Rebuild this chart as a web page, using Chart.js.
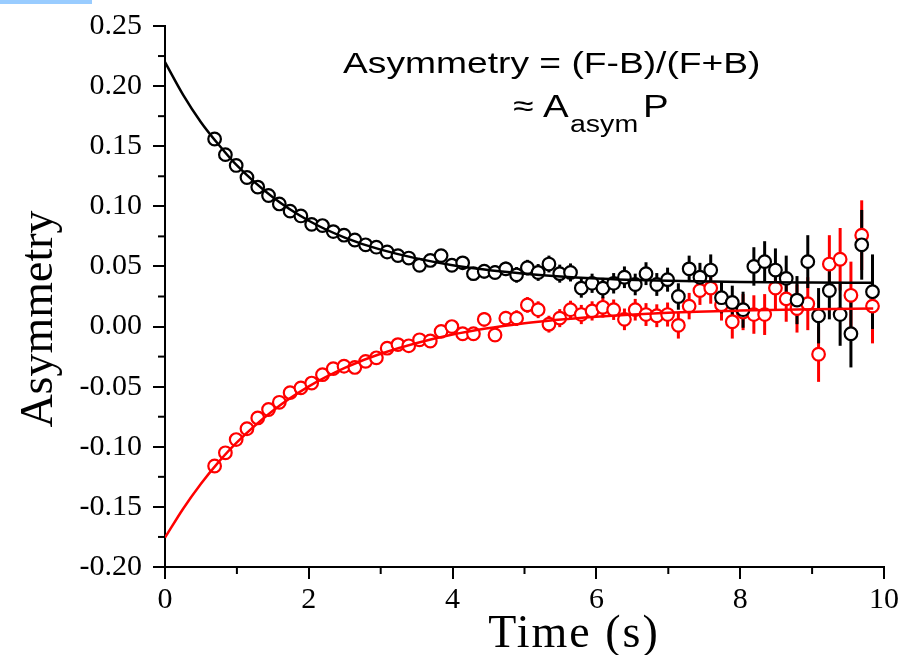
<!DOCTYPE html>
<html>
<head>
<meta charset="utf-8">
<script src="https://cdn.jsdelivr.net/npm/chart.js@4.4.0/dist/chart.umd.min.js"></script>
<style>
  body { margin: 0; background: #fff; }
  #wrap { position: relative; width: 905px; height: 655px; }
  #selBar { position: absolute; left: 0; top: 0; width: 92px; height: 4px; background: #99ccff; }
</style>
</head>
<body>
<div id="wrap">
  <canvas id="asymChart"></canvas>
  <div id="selBar"></div>
</div>
<script>
// measurement times (s)
const times = [0.69, 0.84, 0.99, 1.14, 1.29, 1.44, 1.59, 1.74, 1.89, 2.04,
    2.19, 2.34, 2.49, 2.64, 2.79, 2.94, 3.09, 3.24, 3.39, 3.54,
    3.69, 3.84, 3.99, 4.14, 4.29, 4.44, 4.59, 4.74, 4.89, 5.04,
    5.19, 5.34, 5.49, 5.64, 5.79, 5.94, 6.09, 6.24, 6.39, 6.54,
    6.69, 6.84, 6.99, 7.14, 7.29, 7.44, 7.59, 7.74, 7.89, 8.04,
    8.19, 8.34, 8.49, 8.64, 8.79, 8.94, 9.09, 9.24, 9.39, 9.54,
    9.69, 9.84];

// black points
const asymBlack = [0.156, 0.143, 0.134, 0.124, 0.116, 0.109, 0.102, 0.096, 0.092, 0.085,
    0.084, 0.079, 0.076, 0.072, 0.068, 0.066, 0.062, 0.059, 0.057, 0.051,
    0.055, 0.059, 0.051, 0.053, 0.044, 0.046, 0.045, 0.048, 0.043, 0.049,
    0.045, 0.052, 0.044, 0.045, 0.032, 0.036, 0.032, 0.036, 0.041, 0.035,
    0.044, 0.035, 0.039, 0.025, 0.048, 0.041, 0.047, 0.024, 0.020, 0.014,
    0.050, 0.054, 0.047, 0.040, 0.022, 0.054, 0.009, 0.030, 0.010, -0.006,
    0.068, 0.029];

// red points
const asymRed = [-0.116, -0.105, -0.094, -0.085, -0.076, -0.069, -0.063, -0.055, -0.051, -0.047,
    -0.040, -0.035, -0.033, -0.034, -0.029, -0.026, -0.018, -0.015, -0.016, -0.011,
    -0.012, -0.004, 0.000, -0.006, -0.006, 0.006, -0.007, 0.007, 0.007, 0.018,
    0.014, 0.002, 0.007, 0.014, 0.010, 0.013, 0.016, 0.014, 0.006, 0.014,
    0.010, 0.009, 0.010, 0.001, 0.017, 0.030, 0.032, 0.018, 0.004, 0.012,
    0.010, 0.010, 0.032, 0.023, 0.015, 0.019, -0.023, 0.052, 0.056, 0.026,
    0.076, 0.017];

// error bar half-heights (same for both sets)
const asymErr = [0.003, 0.003, 0.003, 0.003, 0.003, 0.003, 0.003, 0.0035, 0.0035, 0.0035,
    0.004, 0.004, 0.004, 0.004, 0.004, 0.0045, 0.0045, 0.0045, 0.0045, 0.0045,
    0.005, 0.005, 0.005, 0.0055, 0.0055, 0.006, 0.006, 0.006, 0.0065, 0.0065,
    0.007, 0.007, 0.0075, 0.0075, 0.008, 0.008, 0.0085, 0.0085, 0.009, 0.009,
    0.0095, 0.0095, 0.010, 0.011, 0.011, 0.012, 0.013, 0.013, 0.014, 0.015,
    0.016, 0.017, 0.018, 0.019, 0.020, 0.022, 0.023, 0.024, 0.026, 0.028,
    0.029, 0.031];

// fitted curves, read at a few times
const fitTimes = [0, 0.25, 0.5, 0.75, 1, 1.5, 2, 2.5, 3, 4, 5, 6, 7, 8, 9, 9.85];
const fitBlack = [0.220, 0.193, 0.170, 0.151, 0.134, 0.1075, 0.088, 0.074, 0.064, 0.051, 0.044, 0.040, 0.038, 0.037, 0.0366, 0.0364];
const fitRed = [-0.1756, -0.1517, -0.1307, -0.1123, -0.0963, -0.070, -0.0498, -0.0344, -0.0226, -0.0066, 0.0028, 0.0082, 0.0115, 0.0133, 0.0144, 0.015];

const xTicks = [0, 2, 4, 6, 8, 10];
const yTicks = [-0.20, -0.15, -0.10, -0.05, 0.00, 0.05, 0.10, 0.15, 0.20, 0.25];

const serif = '"Liberation Serif", "Times New Roman", serif';
const sans = '"Liberation Sans", Arial, sans-serif';

function toPoints(xs, ys) {
    return xs.map(function(x, i) { return { x: x, y: ys[i] }; });
}

// vertical error bars, drawn under the circles
const errorBars = {
    id: 'errorBars',
    beforeDatasetsDraw: function(chart) {
        const ctx = chart.ctx;
        const xs = chart.scales.x, ys = chart.scales.y;
        ctx.save();
        ctx.lineWidth = 3;
        [[asymRed, '#ff0000'], [asymBlack, '#000000']].forEach(function(set) {
            ctx.strokeStyle = set[1];
            set[0].forEach(function(v, i) {
                const px = xs.getPixelForValue(times[i]);
                ctx.beginPath();
                ctx.moveTo(px, ys.getPixelForValue(v + asymErr[i]));
                ctx.lineTo(px, ys.getPixelForValue(v - asymErr[i]));
                ctx.stroke();
            });
        });
        ctx.restore();
    }
};

// minor ticks + text
const decorations = {
    id: 'decorations',
    afterDraw: function(chart) {
        const ctx = chart.ctx;
        const xs = chart.scales.x, ys = chart.scales.y;
        const area = chart.chartArea;
        ctx.save();
        ctx.strokeStyle = '#000';
        ctx.lineWidth = 2;
        for (let t = 1; t < 10; t += 2) {
            const px = xs.getPixelForValue(t);
            ctx.beginPath();
            ctx.moveTo(px, area.bottom);
            ctx.lineTo(px, area.bottom + 7);
            ctx.stroke();
        }
        for (let k = 0; k < yTicks.length - 1; k++) {
            const py = ys.getPixelForValue(yTicks[k] + 0.025);
            ctx.beginPath();
            ctx.moveTo(area.left, py);
            ctx.lineTo(area.left - 7, py);
            ctx.stroke();
        }

        // axis titles
        ctx.fillStyle = '#000';
        ctx.font = '46px ' + serif;
        ctx.textAlign = 'center';
        ctx.textBaseline = 'alphabetic';
        ctx.letterSpacing = '2px';
        ctx.fillText('Time (s)', 574, 647);
        ctx.letterSpacing = '0px';
        ctx.save();
        ctx.translate(52, 319);
        ctx.rotate(-Math.PI / 2);
        ctx.fillText('Asymmetry', 0, 0);
        ctx.restore();

        // formula annotation
        ctx.textAlign = 'left';
        function stretched(text, x, y, size) {
            ctx.save();
            ctx.font = size + 'px ' + sans;
            ctx.translate(x, y);
            ctx.scale(1.24, 1);
            ctx.fillText(text, 0, 0);
            ctx.restore();
        }
        stretched('Asymmetry = (F-B)/(F+B)', 343, 73, 30);
        stretched('\u2248', 513, 116, 30);
        stretched('A', 543, 117, 31);
        stretched('asym', 570, 132, 23);
        stretched('P', 643, 117, 31);
        ctx.restore();
    }
};

const ctx = document.getElementById('asymChart').getContext('2d');

new Chart(ctx, {
    type: 'scatter',
    data: {
        datasets: [
            {
                label: 'fit black',
                data: toPoints(fitTimes, fitBlack),
                showLine: true,
                borderColor: '#000000',
                borderWidth: 2.5,
                pointRadius: 0,
                cubicInterpolationMode: 'monotone',
                order: 0
            },
            {
                label: 'fit red',
                data: toPoints(fitTimes, fitRed),
                showLine: true,
                borderColor: '#ff0000',
                borderWidth: 2.5,
                pointRadius: 0,
                cubicInterpolationMode: 'monotone',
                order: 0
            },
            {
                label: 'black',
                data: toPoints(times, asymBlack),
                pointRadius: 6.3,
                pointBorderWidth: 2.2,
                pointBorderColor: '#000000',
                pointBackgroundColor: '#ffffff',
                order: 1
            },
            {
                label: 'red',
                data: toPoints(times, asymRed),
                pointRadius: 6.3,
                pointBorderWidth: 2.2,
                pointBorderColor: '#ff0000',
                pointBackgroundColor: '#ffffff',
                order: 2
            }
        ]
    },
    options: {
        responsive: true,
        maintainAspectRatio: false,
        animation: false,
        layout: {
            padding: { top: 24, right: 15, left: 0, bottom: 0 }
        },
        plugins: {
            legend: { display: false },
            tooltip: { enabled: false }
        },
        scales: {
            x: {
                type: 'linear',
                min: 0,
                max: 10,
                afterFit: function(scale) { scale.height = 88; },
                afterBuildTicks: function(scale) {
                    scale.ticks = xTicks.map(function(v) { return { value: v }; });
                },
                border: { display: true, color: '#000', width: 2 },
                grid: {
                    drawOnChartArea: false,
                    drawTicks: true,
                    tickLength: 12,
                    color: '#000',
                    lineWidth: 2
                },
                ticks: {
                    color: '#000',
                    padding: 6,
                    maxRotation: 0,
                    font: { family: serif, size: 30, lineHeight: 1 },
                    callback: function(value) { return value; }
                }
            },
            y: {
                type: 'linear',
                min: -0.20,
                max: 0.25,
                afterFit: function(scale) { scale.width = 165; },
                afterBuildTicks: function(scale) {
                    scale.ticks = yTicks.map(function(v) { return { value: v }; });
                },
                border: { display: true, color: '#000', width: 2 },
                grid: {
                    drawOnChartArea: false,
                    drawTicks: true,
                    tickLength: 12,
                    color: '#000',
                    lineWidth: 2
                },
                ticks: {
                    color: '#000',
                    padding: 11,
                    font: { family: serif, size: 30, lineHeight: 1 },
                    callback: function(value) { return value.toFixed(2); }
                }
            }
        }
    },
    plugins: [errorBars, decorations]
});
</script>
</body>
</html>
